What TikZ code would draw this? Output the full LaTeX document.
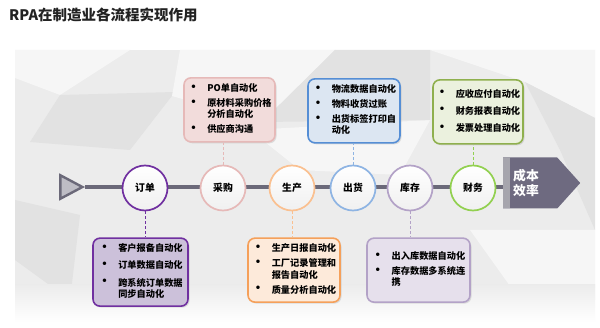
\documentclass[tikz,border=0pt]{standalone}
\usepackage{fontspec}
\setmainfont{Noto Sans CJK SC}
\usetikzlibrary{
  positioning,
  shadows,
  shapes.geometric,
  shapes.symbols
}
\definecolor{ink}{HTML}{222222}
\definecolor{rail}{HTML}{6B6979}
\definecolor{railfill}{HTML}{BEBDC5}
\definecolor{costdark}{HTML}{6E6A80}
\definecolor{coststrip}{HTML}{A6A5AD}
\definecolor{bgbase}{HTML}{ECECEC}
\definecolor{bglight}{HTML}{F6F6F6}
\definecolor{bgdark}{HTML}{E2E2E2}
\definecolor{purple}{HTML}{7030A0}
\definecolor{purplelight}{HTML}{CCC1DA}
\definecolor{pink}{HTML}{E6B9B8}
\definecolor{pinklight}{HTML}{F2DCDB}
\definecolor{orange}{HTML}{FAC090}
\definecolor{orangedeep}{HTML}{F5A05A}
\definecolor{orangelight}{HTML}{FDEADA}
\definecolor{blue}{HTML}{8EB4E3}
\definecolor{bluedeep}{HTML}{558ED5}
\definecolor{bluelight}{HTML}{DCE6F2}
\definecolor{lilac}{HTML}{B3A2C7}
\definecolor{lilaclight}{HTML}{E6E0EC}
\definecolor{green}{HTML}{92D050}
\definecolor{olive}{HTML}{8FB04E}
\definecolor{olivelight}{HTML}{EBF1DE}
\newcommand{\dotm}{\raisebox{0.3pt}{\scalebox{1.35}{\textbullet}}}
\newcommand{\tasks}[1]{\begin{tabular}{@{}l@{\hspace{7.5pt}}l@{}}#1\end{tabular}}
\tikzset{
  stage/.style={
    circle,
    draw=#1,
    line width=1.7pt,
    top color=white,
    bottom color=gray!12,
    minimum size=45pt,
    inner sep=0pt,
    font=\fontsize{9.8}{11}\selectfont\bfseries
  },
  taskbox/.style 2 args={
    draw=#1,
    fill=#2,
    line width=1.6pt,
    rounded corners=7pt,
    inner sep=0pt,
    font=\fontsize{9.2}{10.8}\selectfont\bfseries,
    drop shadow={opacity=0.22, shadow xshift=1.5pt, shadow yshift=-1.5pt}
  },
  tie/.style={
    densely dashed,
    line width=1pt,
    draw=#1
  },
  railline/.style={
    line width=3.8pt,
    draw=rail
  },
  startmark/.style={
    isosceles triangle,
    isosceles triangle apex angle=56,
    minimum height=22pt,
    inner sep=0pt,
    fill=railfill,
    draw=rail,
    line width=2.4pt
  },
  costarrow/.style={
    signal,
    signal to=east,
    signal pointer angle=96,
    minimum width=77pt,
    minimum height=51pt,
    inner sep=0pt,
    fill=costdark,
    path picture={
      \fill[coststrip] (path picture bounding box.south west)
        rectangle ([xshift=6.5pt]path picture bounding box.north west);
    }
  },
  costtext/.style={
    text=white,
    align=left,
    inner sep=0pt,
    font=\fontsize{12.8}{15}\selectfont\bfseries
  }
}

\begin{document}
\begin{tikzpicture}[x=1pt, y=-1pt]
  \useasboundingbox[fill=white] (0,0) rectangle (600,328);
  % backdrop
  \fill[bgbase] (15,50) rectangle (595,322);
  \fill[bglight] (15,50) -- (130,50) -- (60,95) -- (15,78) -- cycle;
  \fill[bgdark] (60,95) -- (175,92) -- (130,150) -- (30,142) -- cycle;
  \fill[bglight] (180,50) -- (335,50) -- (262,122) -- (172,96) -- cycle;
  \fill[bglight] (250,130) -- (430,120) -- (400,175) -- (300,170) -- cycle;
  \fill[bgdark] (335,50) -- (430,50) -- (430,120) -- (262,122) -- cycle;
  \fill[bglight] (430,50) -- (595,50) -- (595,118) -- (525,82) -- cycle;
  \fill[bgdark] (525,82) -- (595,118) -- (595,230) -- (560,150) -- cycle;
  \fill[bgdark] (15,200) -- (80,215) -- (70,300) -- (15,260) -- cycle;
  \fill[bglight] (470,230) -- (595,230) -- (595,300) -- (520,300) -- cycle;
  \shade[top color=bgbase, bottom color=white] (15,285) rectangle (595,322);
  \node[anchor=west, inner sep=0pt, text=ink,
        font=\fontsize{14.5}{17}\selectfont\bfseries] (title) at (9,15)
    {RPA在制造业各流程实现作用};

  % rail
  \node[startmark, anchor=east] (start) at (85,187) {};
  \node[costarrow, anchor=west] (cost) at (503,183) {};
  \node[costtext, anchor=west] (costlbl) at ([xshift=10pt]cost.west) {成本\\效率};
  \draw[railline] (start.east) -- (start.east -| cost.west);

  % stages
  \node[stage=purple] (dd) at (145,188) {订单};
  \node[stage=pink]   (cg) at (223,188) {采购};
  \node[stage=orange] (sc) at (292,188) {生产};
  \node[stage=blue]   (ch) at (353,188) {出货};
  \node[stage=lilac]  (kc) at (410,188) {库存};
  \node[stage=green]  (cw) at (473,188) {财务};

  % upper boxes
  \node[taskbox={pink}{pinklight}, minimum width=91pt, minimum height=64pt,
        above=22pt of cg, xshift=6.5pt] (cgbox)
    {\tasks{\dotm & PO单自动化\\[4pt]
            \dotm & 原材料采购价格\\
                  & 分析自动化\\[4pt]
            \dotm & 供应商沟通}};
  \node[taskbox={bluedeep}{bluelight}, minimum width=92pt, minimum height=64pt,
        above=21pt of ch, xshift=1pt] (chbox)
    {\tasks{\dotm & 物流数据自动化\\[4pt]
            \dotm & 物料收货过账\\[4pt]
            \dotm & 出货标签打印自\\
                  & 动化}};
  \node[taskbox={olive}{olivelight}, minimum width=90pt, minimum height=64pt,
        above=20pt of cw, xshift=5pt] (cwbox)
    {\tasks{\dotm & 应收应付自动化\\[6pt]
            \dotm & 财务报表自动化\\[6pt]
            \dotm & 发票处理自动化}};

  % lower boxes
  \node[taskbox={purple}{purplelight}, minimum width=95pt, minimum height=68pt,
        below=26pt of dd, xshift=-4.5pt] (ddbox)
    {\tasks{\dotm & 客户报备自动化\\[6pt]
            \dotm & 订单数据自动化\\[6pt]
            \dotm & 跨系统订单数据\\
                  & 同步自动化}};
  \node[taskbox={orangedeep}{orangelight}, minimum width=92pt, minimum height=64pt,
        below=26pt of sc, xshift=2pt] (scbox)
    {\tasks{\dotm & 生产日报自动化\\[4pt]
            \dotm & 工厂记录管理和\\
                  & 报告自动化\\[4pt]
            \dotm & 质量分析自动化}};
  \node[taskbox={lilac}{lilaclight}, minimum width=103pt, minimum height=64pt,
        below=26pt of kc, xshift=8.5pt] (kcbox)
    {\tasks{\dotm & 出入库数据自动化\\[4pt]
            \dotm & 库存数据多系统连\\
                  & 携}};

  % ties
  \draw[tie=pink]   (cg.north) -- (cg.north |- cgbox.south);
  \draw[tie=blue]   (ch.north) -- (ch.north |- chbox.south);
  \draw[tie=green]  (cw.north) -- (cw.north |- cwbox.south);
  \draw[tie=purple] (dd.south) -- (dd.south |- ddbox.north);
  \draw[tie=orange] (sc.south) -- (sc.south |- scbox.north);
  \draw[tie=lilac]  (kc.south) -- (kc.south |- kcbox.north);
\end{tikzpicture}
\end{document}
